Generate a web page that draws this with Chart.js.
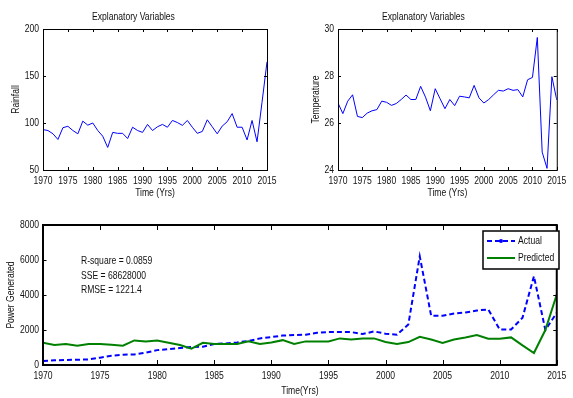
<!DOCTYPE html>
<html>
<head>
<meta charset="utf-8">
<script src="https://cdn.jsdelivr.net/npm/chart.js@4.4.1/dist/chart.umd.min.js"></script>
<style>
  html, body { margin: 0; padding: 0; background: #fff; }
  #wrap { position: relative; width: 573px; height: 398px; overflow: hidden; }
  canvas { position: absolute; }
</style>
</head>
<body>
<div id="wrap">
  <canvas id="chart-rain" width="285" height="200" style="left:0;top:0;width:285px;height:200px"></canvas>
  <canvas id="chart-temp" width="288" height="200" style="left:285px;top:0;width:288px;height:200px"></canvas>
  <canvas id="chart-power" width="573" height="198" style="left:0;top:200px;width:573px;height:198px"></canvas>
</div>
<script>
// --- data ---
const years = [1970, 1971, 1972, 1973, 1974, 1975, 1976, 1977, 1978, 1979,
  1980, 1981, 1982, 1983, 1984, 1985, 1986, 1987, 1988, 1989,
  1990, 1991, 1992, 1993, 1994, 1995, 1996, 1997, 1998, 1999,
  2000, 2001, 2002, 2003, 2004, 2005, 2006, 2007, 2008, 2009,
  2010, 2011, 2012, 2013, 2014, 2015];

const rainfall = [93, 92, 88.5, 82.5, 95, 96.5, 92, 88.5, 102, 97.7,
  100, 92, 86, 74, 90, 89, 89, 83.5, 95.5, 92,
  90, 98.5, 92, 96, 98.5, 95.5, 102.7, 100.5, 97.5, 102.7,
  95.5, 89, 91, 103.4, 96, 88.5, 96.7, 101.3, 110, 95.5,
  95.5, 82, 102.7, 80, 122, 165];

const temperature = [26.85, 26.4, 26.93, 27.2, 26.28, 26.23, 26.42, 26.52, 26.57, 26.93,
  26.88, 26.75, 26.83, 27.0, 27.19, 27.0, 27.0, 27.56, 27.1, 26.52,
  27.46, 27.03, 26.61, 27.0, 26.74, 27.14, 27.11, 27.07, 27.6, 27.07,
  26.85, 27.0, 27.2, 27.39, 27.36, 27.46, 27.39, 27.42, 27.11, 27.84,
  27.94, 29.64, 24.76, 24.07, 27.97, 26.98];

const powerActual = [230, 266, 285, 300, 320, 420, 530, 590, 600, 700,
  850, 910, 970, 1026, 1045, 1200, 1235, 1290, 1370, 1520,
  1600, 1680, 1710, 1730, 1840, 1880, 1880, 1880, 1770, 1920,
  1790, 1730, 2320, 6210, 2810, 2810, 2945, 3000, 3115, 3175,
  2030, 2030, 2700, 5075, 2000, 2985];

const powerPredicted = [1270, 1140, 1200, 1100, 1200, 1200, 1160, 1100, 1405, 1350,
  1405, 1270, 1140, 930, 1270, 1200, 1200, 1200, 1350, 1200,
  1290, 1420, 1200, 1350, 1350, 1350, 1520, 1460, 1520, 1520,
  1310, 1200, 1310, 1615, 1460, 1255, 1460, 1577, 1710, 1500,
  1500, 1577, 1120, 685, 2000, 4030];

const seriesNames = ['Actual', 'Predicted'];
const fitStats = ['R-square = 0.0859', 'SSE = 68628000', 'RMSE = 1221.4'];

const FONT = '"Liberation Sans", Arial, sans-serif';
Chart.defaults.font.family = FONT;
Chart.defaults.font.size = 11;
Chart.defaults.color = '#111';

// the figure uses a narrow helvetica; no narrow face is installed, so squeeze text horizontally
const TEXT_SQUEEZE = 0.78;
const rawFillText = CanvasRenderingContext2D.prototype.fillText;
CanvasRenderingContext2D.prototype.fillText = function(text, x, y, maxWidth){
  this.save();
  this.translate(x, y);
  this.scale(TEXT_SQUEEZE, 1);
  if(maxWidth === undefined) rawFillText.call(this, text, 0, 0);
  else rawFillText.call(this, text, 0, 0, maxWidth / TEXT_SQUEEZE);
  this.restore();
};

function pts(vals){ return years.map((y, i) => ({ x: y, y: vals[i] })); }
const plain = v => String(v);

// matlab style frame + inward ticks on all four sides
const frameTicks = {
  id: 'frameTicks',
  afterDraw(chart, args, o){
    const { ctx, chartArea: a, scales } = chart;
    ctx.save();
    ctx.strokeStyle = '#000';
    ctx.lineWidth = 1;
    ctx.beginPath();
    scales.x.ticks.forEach(t => {
      const px = Math.round(scales.x.getPixelForValue(t.value)) + 0.5;
      ctx.moveTo(px, a.bottom); ctx.lineTo(px, a.bottom - o.xLen);
      ctx.moveTo(px, a.top); ctx.lineTo(px, a.top + o.xLen);
    });
    scales.y.ticks.forEach(t => {
      const py = Math.round(scales.y.getPixelForValue(t.value)) + 0.5;
      ctx.moveTo(a.left, py); ctx.lineTo(a.left + o.yLen, py);
      ctx.moveTo(a.right, py); ctx.lineTo(a.right - o.yLen, py);
    });
    ctx.stroke();
    ctx.lineWidth = o.frameWidth;
    const off = o.frameWidth % 2 ? 0.5 : 0;
    ctx.strokeRect(a.left + off, a.top + off, a.right - a.left, a.bottom - a.top);
    ctx.restore();
  }
};

// boxed legend inside the plot, like matlab
const boxLegend = {
  id: 'boxLegend',
  afterDraw(chart, args, o){
    if(!o || !o.w) return;
    const { ctx } = chart;
    ctx.save();
    ctx.fillStyle = '#fff';
    ctx.fillRect(o.x, o.y, o.w, o.h);
    ctx.strokeStyle = '#000';
    ctx.lineWidth = 1.5;
    ctx.strokeRect(o.x, o.y, o.w, o.h);
    chart.data.datasets.forEach((ds, i) => {
      const cy = o.y + o.first + i * o.gap;
      ctx.strokeStyle = ds.borderColor;
      ctx.lineWidth = ds.borderWidth;
      ctx.setLineDash(ds.borderDash || []);
      ctx.beginPath();
      ctx.moveTo(o.x + 4, cy); ctx.lineTo(o.x + 32, cy);
      ctx.stroke();
      ctx.setLineDash([]);
      if(ds.legendDot){
        ctx.fillStyle = ds.borderColor;
        ctx.beginPath(); ctx.arc(o.x + 18, cy, 2, 0, Math.PI * 2); ctx.fill();
      }
      ctx.fillStyle = '#111';
      ctx.font = '11px ' + FONT;
      ctx.textBaseline = 'middle';
      ctx.fillText(ds.label, o.x + 35, cy);
    });
    ctx.restore();
  }
};

// fit statistics text block
const statsText = {
  id: 'statsText',
  afterDraw(chart, args, o){
    if(!o || !o.lines) return;
    const { ctx } = chart;
    ctx.save();
    ctx.fillStyle = '#111';
    ctx.font = '11px ' + FONT;
    ctx.textBaseline = 'middle';
    o.lines.forEach((s, i) => ctx.fillText(s, o.x, o.y + i * o.gap));
    ctx.restore();
  }
};

function smallChart(id, vals, yLabel, yMin, yMax, yStep, yWidth, yTitlePad){
  return new Chart(document.getElementById(id), {
    type: 'line',
    data: { datasets: [{ label: yLabel, data: pts(vals), borderColor: '#0000ff', borderWidth: 1, pointRadius: 0, tension: 0, fill: false }] },
    options: {
      responsive: false,
      animation: false,
      devicePixelRatio: 1,
      layout: { padding: { left: 0, right: id === 'chart-rain' ? 18 : 11, top: 0, bottom: 0 } },
      plugins: {
        legend: { display: false },
        tooltip: { enabled: false },
        title: { display: true, text: 'Explanatory Variables', color: '#111', font: { size: 11, weight: 'normal', lineHeight: '13px' }, padding: { top: 10, bottom: 6 } },
        frameTicks: { xLen: 3, yLen: 3, frameWidth: 1 }
      },
      scales: {
        x: {
          type: 'linear', min: 1970, max: 2015,
          grid: { display: false, drawTicks: false }, border: { display: false },
          ticks: { stepSize: 5, callback: plain, padding: 4, maxRotation: 0, autoSkip: false },
          title: { display: true, text: 'Time (Yrs)', font: { size: 11 }, padding: { top: 0, bottom: 0 } },
          afterFit(s){ s.height = 30; }
        },
        y: {
          min: yMin, max: yMax,
          grid: { display: false, drawTicks: false }, border: { display: false },
          ticks: { stepSize: yStep, callback: plain, padding: 4 },
          title: { display: true, text: yLabel, font: { size: 11 }, padding: { top: yTitlePad, bottom: 0 } },
          afterFit(s){ s.width = yWidth; }
        }
      }
    },
    plugins: [frameTicks]
  });
}

smallChart('chart-rain', rainfall, 'Rainfall', 50, 200, 50, 43, 9);
smallChart('chart-temp', temperature, 'Temperature', 24, 30, 2, 53, 24);

new Chart(document.getElementById('chart-power'), {
  type: 'line',
  data: {
    datasets: [
      { label: seriesNames[0], data: pts(powerActual), borderColor: '#0000ff', borderWidth: 2, borderDash: [5, 3], pointRadius: 0, legendDot: true, tension: 0, fill: false, order: 1 },
      { label: seriesNames[1], data: pts(powerPredicted), borderColor: '#008000', borderWidth: 2, pointRadius: 0, tension: 0, fill: false, order: 0 }
    ]
  },
  options: {
    responsive: false,
    animation: false,
    devicePixelRatio: 1,
    layout: { padding: { left: 0, right: 11, top: 25, bottom: 0 } },
    plugins: {
      legend: { display: false },
      tooltip: { enabled: false },
      frameTicks: { xLen: 5, yLen: 3.5, frameWidth: 2 },
      boxLegend: { x: 483, y: 31, w: 76, h: 38, first: 10, gap: 17 },
      statsText: { lines: fitStats, x: 81, y: 61, gap: 14.5 }
    },
    scales: {
      x: {
        type: 'linear', min: 1970, max: 2015,
        grid: { display: false, drawTicks: false }, border: { display: false },
        ticks: { stepSize: 5, callback: plain, padding: 4, maxRotation: 0, autoSkip: false },
        title: { display: true, text: 'Time(Yrs)', font: { size: 11 }, padding: { top: 0, bottom: 0 } },
        afterFit(s){ s.height = 33; }
      },
      y: {
        min: 0, max: 8000,
        grid: { display: false, drawTicks: false }, border: { display: false },
        ticks: { stepSize: 2000, callback: plain, padding: 4 },
        title: { display: true, text: 'Power Generated', font: { size: 11 }, padding: { top: 4, bottom: 0 } },
        afterFit(s){ s.width = 43; }
      }
    }
  },
  plugins: [frameTicks, boxLegend, statsText]
});
</script>
</body>
</html>
